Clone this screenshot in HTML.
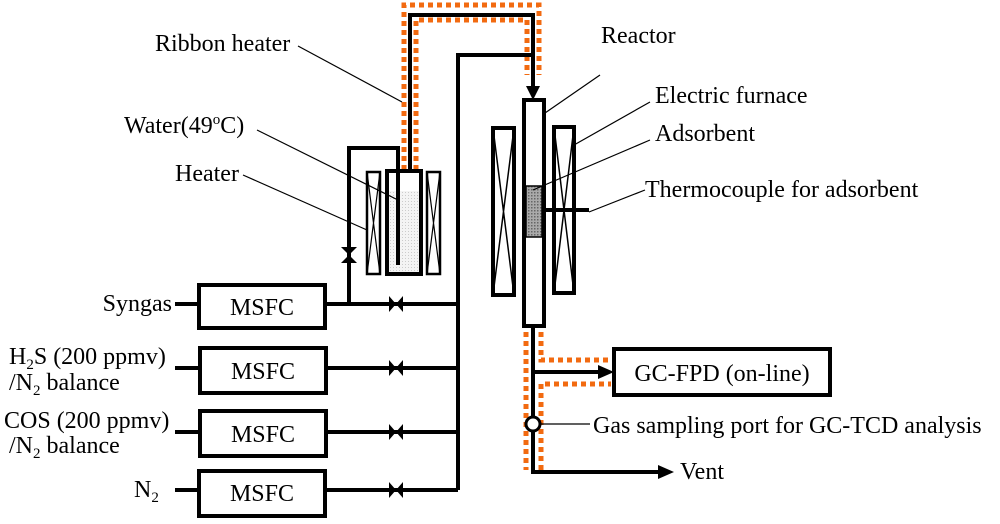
<!DOCTYPE html>
<html><head><style>body{margin:0;background:#fff}svg{display:block}text{font-family:"Liberation Serif",serif;font-size:24px;fill:#000}</style></head>
<body>
<svg width="1000" height="524" viewBox="0 0 1000 524">
<defs>
<pattern id="dots" width="3" height="3" patternUnits="userSpaceOnUse"><rect width="3" height="3" fill="#f4f4f4"/><rect width="1" height="1" fill="#ccc"/></pattern>
<pattern id="ads" width="3" height="3" patternUnits="userSpaceOnUse"><rect width="3" height="3" fill="#aaa"/><rect width="1.5" height="1.5" fill="#666"/></pattern>
</defs>
<g fill="none" stroke="#f26a10" stroke-width="5" stroke-dasharray="5,4">
<path d="M404 170 V5 H539 V75"/>
<path d="M416 170 V20 H527 V75"/>
<path d="M526 332 V470"/>
<path d="M541 332 V360 H611"/>
<path d="M541 470 V384 H611"/>
</g>
<g fill="none" stroke="#000" stroke-width="4">
<rect x="199" y="285" width="126" height="43"/>
<rect x="200" y="348" width="126" height="45"/>
<rect x="200" y="411" width="126" height="45"/>
<rect x="199" y="471" width="126" height="45"/>
<path d="M175 304 H199 M175 368 H200 M175 432 H200 M175 490 H199"/>
<path d="M325 304 H458 M326 368 H458 M326 432 H458 M325 490 H458"/>
<path d="M458 490 V55 H533 V88"/>
<path d="M349 304 V148 H398 V265"/>
<path d="M410 170 V15 H533 V55"/>
<rect x="387" y="171" width="34" height="103" fill="none"/>
<rect x="524" y="100" width="20" height="226" fill="#fff"/>
<path d="M544 210 H589"/>
<path d="M533 328 V472 H660 M533 372 H600"/>
<rect x="614" y="349" width="216" height="46" fill="#fff"/>
</g>
<rect x="389" y="191" width="30" height="81" fill="url(#dots)"/>
<path d="M398 190 V265" stroke="#000" stroke-width="4"/>
<rect x="526" y="186" width="16" height="51" fill="url(#ads)" stroke="#000" stroke-width="1.5"/>
<g fill="none" stroke="#000">
<rect x="367" y="172" width="13" height="102" stroke-width="2.5"/>
<path d="M367 172 L380 274 M380 172 L367 274" stroke-width="1.2"/>
<rect x="427" y="172" width="13" height="102" stroke-width="2.5"/>
<path d="M427 172 L440 274 M440 172 L427 274" stroke-width="1.2"/>
<rect x="493" y="128" width="21" height="167" stroke-width="4"/>
<path d="M493 128 L514 295 M514 128 L493 295" stroke-width="1.5"/>
<rect x="554" y="127" width="20" height="166" stroke-width="4"/>
<path d="M554 127 L574 293 M574 127 L554 293" stroke-width="1.5"/>
</g>
<g fill="#000">
<path d="M526 86 L540 86 L533 100 Z"/>
<path d="M598 365 L614 372 L598 379 Z"/>
<path d="M658 465 L674 472 L658 479 Z"/>
<path d="M389 296 L403 312 L403 296 L389 312 Z"/>
<path d="M389 360 L403 376 L403 360 L389 376 Z"/>
<path d="M389 424 L403 440 L403 424 L389 440 Z"/>
<path d="M389 482 L403 498 L403 482 L389 498 Z"/>
<path d="M341 247 L357 263 L341 263 L357 247 Z"/>
</g>
<circle cx="533" cy="424" r="7" fill="#fff" stroke="#000" stroke-width="3"/>
<g stroke="#000" stroke-width="1.2" fill="none">
<path d="M298 46 L402 102"/>
<path d="M257 130 L398 200"/>
<path d="M243 175 L367 230"/>
<path d="M545 113 L600 75"/>
<path d="M574 145 L650 102"/>
<path d="M533 190 L650 140"/>
<path d="M589 212 L645 190"/>
<path d="M541 424 L590 424"/>
</g>
<text x="155" y="51">Ribbon heater</text>
<text x="124" y="133">Water(49<tspan font-size="15" dy="-9">o</tspan><tspan dy="9">C)</tspan></text>
<text x="175" y="181">Heater</text>
<text x="601" y="43">Reactor</text>
<text x="655" y="103">Electric furnace</text>
<text x="655" y="141">Adsorbent</text>
<text x="645" y="197">Thermocouple for adsorbent</text>
<text x="172" y="311" text-anchor="end">Syngas</text>
<text x="9" y="364">H<tspan font-size="15" dy="5">2</tspan><tspan dy="-5">S (200 ppmv)</tspan></text>
<text x="9" y="390">/N<tspan font-size="15" dy="5">2</tspan><tspan dy="-5"> balance</tspan></text>
<text x="4" y="428">COS (200 ppmv)</text>
<text x="9" y="453">/N<tspan font-size="15" dy="5">2</tspan><tspan dy="-5"> balance</tspan></text>
<text x="134" y="497">N<tspan font-size="15" dy="5">2</tspan></text>
<text x="262" y="315" text-anchor="middle">MSFC</text>
<text x="263" y="379" text-anchor="middle">MSFC</text>
<text x="263" y="442" text-anchor="middle">MSFC</text>
<text x="262" y="501" text-anchor="middle">MSFC</text>
<text x="722" y="381" text-anchor="middle">GC-FPD (on-line)</text>
<text x="593" y="433">Gas sampling port for GC-TCD analysis</text>
<text x="680" y="479">Vent</text>
</svg>
</body></html>
